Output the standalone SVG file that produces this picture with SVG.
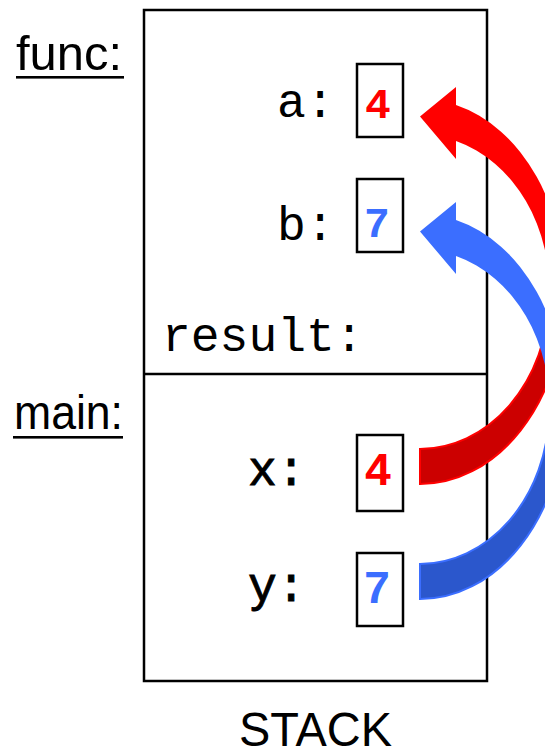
<svg xmlns="http://www.w3.org/2000/svg" width="545" height="751" viewBox="0 0 545 751">
<style>
.frame{fill:#fff;stroke:#000;stroke-width:2.5}
.cell{fill:#fff;stroke:#000;stroke-width:2.5}
.lbl{font-family:"Liberation Sans",Arial,sans-serif;font-size:48px;fill:#000}
.mono{font-family:"Liberation Mono","Courier New",monospace;font-size:48px;fill:#000}
.monob{font-family:"Liberation Mono","Courier New",monospace;font-size:48px;fill:#000;stroke:#000;stroke-width:0.9}
.dig{font-family:"Liberation Mono","Courier New",monospace;font-weight:bold;text-anchor:middle}
.red{fill:#FF0000}
.blue{fill:#3B6EFF}
</style>
<rect width="545" height="751" fill="#fff"/>
<g id="stack">
<rect class="frame" x="144" y="10" width="343" height="671"/>
<line x1="144" y1="374" x2="487" y2="374" stroke="#000" stroke-width="2.5"/>
<text class="lbl" x="239" y="746" font-size="52" textLength="153" lengthAdjust="spacingAndGlyphs">STACK</text>
</g>
<g id="func-label">
<text class="lbl" x="16" y="70" textLength="106" lengthAdjust="spacingAndGlyphs">func:</text>
<rect x="16" y="76" width="108" height="2.6" fill="#000"/>
</g>
<g id="main-label">
<text class="lbl" x="14" y="429" textLength="109" lengthAdjust="spacingAndGlyphs">main:</text>
<rect x="13" y="436" width="110" height="2.6" fill="#000"/>
</g>
<g id="result">
<text class="mono" x="162" y="351">result:</text>
</g>
<g id="var-a">
<text class="mono" x="277" y="117">a:</text>
<rect class="cell" x="357" y="64" width="46" height="73"/>
<text class="dig red" x="378" y="118" font-size="43">4</text>
</g>
<g id="var-b">
<text class="mono" x="277" y="240">b:</text>
<rect class="cell" x="357" y="179" width="46" height="73"/>
<text class="dig blue" x="377" y="237" font-size="43">7</text>
</g>
<g id="var-x">
<text class="monob" x="248" y="485">x:</text>
<rect class="cell" x="357" y="435" width="46" height="76"/>
<text class="dig red" x="378" y="485" font-size="46">4</text>
</g>
<g id="var-y">
<text class="monob" x="248" y="601">y:</text>
<rect class="cell" x="357" y="553" width="46" height="73"/>
<text class="dig blue" x="377" y="603" font-size="46">7</text>
</g>
<g id="connectors">
<g id="arrow-red">
<path d="M565,300 A145 192 0 0 1 420,484 L420,449 A130 155 0 0 0 549,300 Z" fill="#CC0000" stroke="#FF0000" stroke-width="2"/>
<path d="M420,116.5 L456,87 L456,105 A145 192 0 0 1 565,300 L549,300 A130 155 0 0 0 456,141 L456,159 Z" fill="#FF0000"/>
</g>
<g id="arrow-blue" transform="translate(0,115)">
<path d="M565,300 A145 192 0 0 1 420,484 L420,449 A130 155 0 0 0 549,300 Z" fill="#2B57CC" stroke="#3B6EFF" stroke-width="2"/>
<path d="M420,116.5 L456,87 L456,105 A145 192 0 0 1 565,300 L549,300 A130 155 0 0 0 456,141 L456,159 Z" fill="#3B6EFF"/>
</g>
</g>
</svg>
